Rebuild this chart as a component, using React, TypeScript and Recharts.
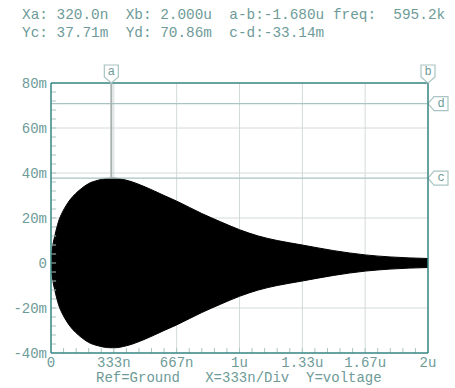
import React from "react";
import {
  ComposedChart,
  Area,
  XAxis,
  YAxis,
  CartesianGrid,
  ReferenceLine,
} from "recharts";

// Envelope of the damped oscillation: time in µs, voltage in mV
const TIME_US = [
  0, 0.005, 0.01, 0.02, 0.04, 0.06, 0.08, 0.1, 0.13, 0.16, 0.2, 0.25, 0.3,
  0.333, 0.4, 0.5, 0.6, 0.667, 0.8, 0.9, 1.0, 1.1, 1.2, 1.333, 1.5, 1.667,
  1.8, 2.0,
];
const UPPER_MV = [
  0, 5, 8, 12, 18.5, 22.5, 25.5, 28, 30.8, 33, 35.3, 36.8, 37.6, 37.7, 36.8,
  33.8, 30, 27.5, 22, 18.3, 14.8, 12, 10, 8, 5.5, 3.6, 2.7, 2,
];
const LOWER_MV = [
  0, -5, -8, -12, -18.5, -22.5, -25.5, -28, -30.8, -33, -35.3, -36.8, -37.6,
  -37.7, -36.8, -33.8, -30, -27.5, -22, -18.3, -14.8, -12, -10, -8, -5.5,
  -3.6, -2.7, -2,
];

const X_TICKS = [0, 1 / 3, 2 / 3, 1, 4 / 3, 5 / 3, 2];
const X_TICK_LABELS = ["0", "333n", "667n", "1u", "1.33u", "1.67u", "2u"];
const Y_TICKS = [-40, -20, 0, 20, 40, 60, 80];
const Y_TICK_LABELS = ["-40m", "-20m", "0", "20m", "40m", "60m", "80m"];

// Minor divisions: 5 per major division on both axes
const X_MINOR = Array.from({ length: 29 }, (_, i) => ((i + 1) * 2) / 30);
const Y_MINOR = Array.from({ length: 29 }, (_, i) => -40 + (i + 1) * 4);
const X_MINOR_LEN = 2.2; // mV, tick length on the time axis
const Y_MINOR_LEN = 0.027; // µs, tick length on the voltage axis

// Cursor positions
const CURSOR_A = 0.32;
const CURSOR_B = 2.0;
const CURSOR_C = 37.71;
const CURSOR_D = 70.86;

const READOUT_LINES = [
  "Xa: 320.0n  Xb: 2.000u  a-b:-1.680u freq:  595.2k",
  "Yc: 37.71m  Yd: 70.86m  c-d:-33.14m",
];
const FOOTER = "Ref=Ground   X=333n/Div  Y=voltage";

const data = TIME_US.map((t, i) => ({
  t,
  band: [LOWER_MV[i], UPPER_MV[i]],
}));

const MONO = "'Liberation Mono', 'DejaVu Sans Mono', monospace";
const TEXT = "#6e9b98";
const AXIS = "#3b8a87";
const GRID = "#d2dbda";
const CURSOR = "#a7b1b0";
const TAG = "#a9c4c2";

function CursorTag(props: any) {
  const { viewBox, name, side } = props;
  if (!viewBox) return null;
  const { x, y, width } = viewBox;
  if (side === "top") {
    const cx = x;
    const tip = y;
    const d = `M${cx - 7},${tip - 18} L${cx + 7},${tip - 18} L${cx + 7},${tip - 6} L${cx},${tip} L${cx - 7},${tip - 6} Z`;
    return (
      <g>
        <path d={d} fill="#ffffff" stroke={TAG} strokeWidth={1.2} />
        <text
          x={cx}
          y={tip - 11}
          textAnchor="middle"
          dominantBaseline="central"
          fontFamily={MONO}
          fontSize={12}
          fill={TEXT}
        >
          {name}
        </text>
      </g>
    );
  }
  const tx = x + width;
  const cy = y;
  const d = `M${tx},${cy} L${tx + 6},${cy - 7} L${tx + 20},${cy - 7} L${tx + 20},${cy + 7} L${tx + 6},${cy + 7} Z`;
  return (
    <g>
      <path d={d} fill="#ffffff" stroke={TAG} strokeWidth={1.2} />
      <text
        x={tx + 13}
        y={cy}
        textAnchor="middle"
        dominantBaseline="central"
        fontFamily={MONO}
        fontSize={12}
        fill={TEXT}
      >
        {name}
      </text>
    </g>
  );
}

export default function App() {
  return (
    <div
      style={{
        position: "absolute",
        left: 0,
        top: 0,
        width: 455,
        height: 388,
        background: "#ffffff",
        overflow: "hidden",
      }}
    >
      {READOUT_LINES.map((line, i) => (
        <div
          key={i}
          style={{
            position: "absolute",
            left: 22,
            top: 7 + i * 18,
            fontFamily: MONO,
            fontSize: 14.4,
            lineHeight: "16px",
            color: TEXT,
            whiteSpace: "pre",
          }}
        >
          {line}
        </div>
      ))}
      <ComposedChart
        width={455}
        height={388}
        data={data}
        margin={{ top: 83, right: 27, bottom: 15, left: 0 }}
      >
        <CartesianGrid stroke={GRID} strokeWidth={1} />
        <XAxis
          dataKey="t"
          type="number"
          domain={[0, 2]}
          ticks={X_TICKS}
          tickFormatter={(v: number) =>
            X_TICK_LABELS[X_TICKS.findIndex((t) => Math.abs(t - v) < 1e-6)]
          }
          height={20}
          tickLine={false}
          tickSize={0}
          tickMargin={4}
          axisLine={{ stroke: AXIS, strokeWidth: 1.5 }}
          tick={{ fill: TEXT, fontFamily: MONO, fontSize: 14 }}
          interval={0}
          allowDataOverflow
        />
        <YAxis
          type="number"
          domain={[-40, 80]}
          ticks={Y_TICKS}
          tickFormatter={(v: number) => Y_TICK_LABELS[Y_TICKS.indexOf(v)]}
          width={51}
          tickLine={false}
          tickSize={0}
          tickMargin={4}
          axisLine={{ stroke: AXIS, strokeWidth: 1.5 }}
          tick={{ fill: TEXT, fontFamily: MONO, fontSize: 14 }}
          interval={0}
          allowDataOverflow
        />
        {X_MINOR.map((v) => (
          <ReferenceLine
            key={`xm${v}`}
            segment={[
              { x: v, y: -40 },
              { x: v, y: -40 + X_MINOR_LEN },
            ]}
            stroke={TAG}
            strokeWidth={1}
          />
        ))}
        {Y_MINOR.map((v) => (
          <ReferenceLine
            key={`ym${v}`}
            segment={[
              { x: 0, y: v },
              { x: Y_MINOR_LEN, y: v },
            ]}
            stroke={TAG}
            strokeWidth={1}
          />
        ))}
        <ReferenceLine y={80} stroke={AXIS} strokeWidth={1.5} />
        <ReferenceLine
          y={CURSOR_D}
          stroke={TAG}
          strokeWidth={1.2}
          label={<CursorTag name="d" side="right" />}
        />
        <ReferenceLine
          y={CURSOR_C}
          stroke={TAG}
          strokeWidth={1.2}
          label={<CursorTag name="c" side="right" />}
        />
        <ReferenceLine
          segment={[
            { x: CURSOR_A, y: 80 },
            { x: CURSOR_A, y: CURSOR_C },
          ]}
          stroke={CURSOR}
          strokeWidth={2}
          label={<CursorTag name="a" side="top" />}
        />
        <Area
          dataKey="band"
          type="monotone"
          fill="#000000"
          fillOpacity={1}
          stroke="#000000"
          strokeWidth={1}
          isAnimationActive={false}
        />
        <ReferenceLine
          x={CURSOR_B}
          stroke={AXIS}
          strokeWidth={1.5}
          label={<CursorTag name="b" side="top" />}
        />
      </ComposedChart>
      <div
        style={{
          position: "absolute",
          left: 96,
          top: 371,
          fontFamily: MONO,
          fontSize: 14,
          lineHeight: "14px",
          color: TEXT,
          whiteSpace: "pre",
        }}
      >
        {FOOTER}
      </div>
    </div>
  );
}
